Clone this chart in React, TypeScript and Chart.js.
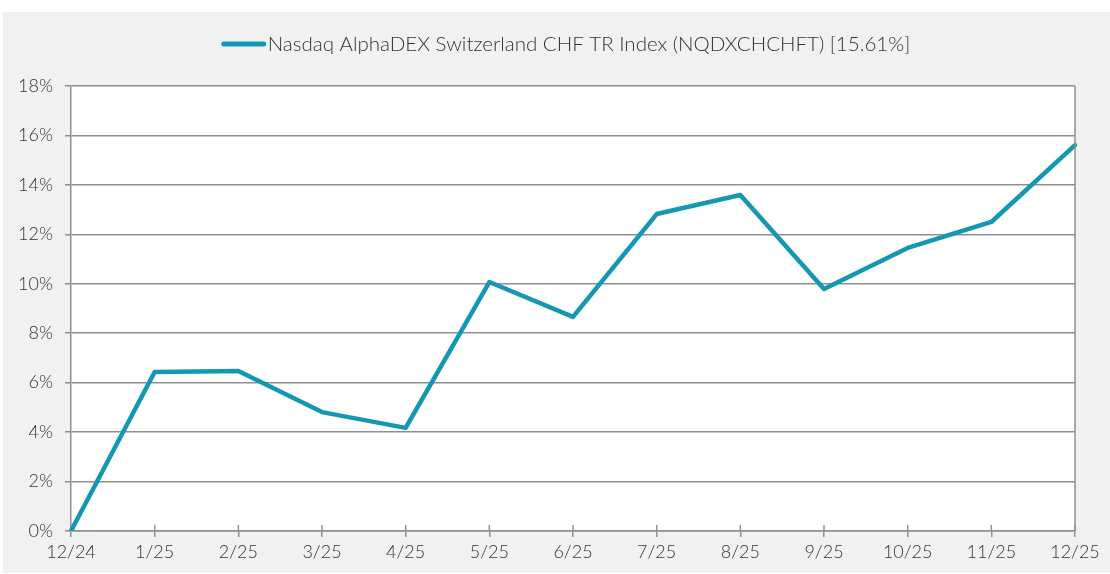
import React, { useEffect, useRef } from "react";
import { Chart, registerables } from "chart.js";

Chart.register(...registerables);

const categories = ["12/24", "1/25", "2/25", "3/25", "4/25", "5/25", "6/25", "7/25", "8/25", "9/25", "10/25", "11/25", "12/25"];
const seriesValues = [0, 6.43, 6.47, 4.81, 4.17, 10.07, 8.66, 12.82, 13.59, 9.79, 11.45, 12.5, 15.61];
const seriesLabel = "Nasdaq AlphaDEX Switzerland CHF TR Index (NQDXCHCHFT) [15.61%]";
const yTicks = [0, 2, 4, 6, 8, 10, 12, 14, 16, 18];

const LINE_COLOR = "#1397b3";
const GRID_COLOR = "#8f8f8f";
const TEXT_COLOR = "#333333";
const FONT_FAMILY = "Lato, 'Open Sans', Roboto, sans-serif";

export default function App() {
  const ref = useRef<HTMLCanvasElement | null>(null);

  useEffect(() => {
    document.body.style.margin = "0";
    const canvas = ref.current;
    if (!canvas) return;

    const decor = {
      id: "decor",
      beforeDraw(chart: any) {
        const ctx = chart.ctx;
        ctx.save();
        ctx.fillStyle = "#ffffff";
        ctx.fillRect(0, 0, chart.width, chart.height);
        ctx.fillStyle = "#f1f1f1";
        ctx.fillRect(3, 12, chart.width - 3, chart.height - 13);
        const a = chart.chartArea;
        ctx.fillStyle = "#ffffff";
        ctx.fillRect(a.left, a.top, a.right - a.left, a.bottom - a.top);
        ctx.restore();
      },
      afterDraw(chart: any) {
        const ctx = chart.ctx;
        const a = chart.chartArea;
        const xs = chart.scales.x;
        ctx.save();
        ctx.strokeStyle = GRID_COLOR;
        ctx.lineWidth = 1.5;
        // right border
        ctx.beginPath();
        ctx.moveTo(a.right, a.top);
        ctx.lineTo(a.right, a.bottom);
        ctx.stroke();
        // upward part of x ticks
        for (let i = 1; i < categories.length; i++) {
          const x = xs.getPixelForValue(i);
          ctx.beginPath();
          ctx.moveTo(x, a.bottom - 6);
          ctx.lineTo(x, a.bottom);
          ctx.stroke();
        }
        // legend
        const cx = 566;
        ctx.font = `300 20.5px ${FONT_FAMILY}`;
        const tw = ctx.measureText(seriesLabel).width;
        const total = 46 + tw;
        const x0 = cx - total / 2;
        const ly = 44;
        ctx.strokeStyle = LINE_COLOR;
        ctx.lineWidth = 5;
        ctx.lineCap = "round";
        ctx.beginPath();
        ctx.moveTo(x0 + 2, ly);
        ctx.lineTo(x0 + 42, ly);
        ctx.stroke();
        ctx.fillStyle = TEXT_COLOR;
        ctx.textBaseline = "middle";
        ctx.textAlign = "left";
        ctx.fillText(seriesLabel, x0 + 46, ly);
        ctx.restore();
      },
    };

    const chart = new Chart(canvas, {
      type: "line",
      data: {
        labels: categories,
        datasets: [
          {
            label: seriesLabel,
            data: seriesValues,
            borderColor: LINE_COLOR,
            backgroundColor: LINE_COLOR,
            borderWidth: 4.5,
            pointRadius: 0,
            tension: 0,
            borderCapStyle: "round",
            borderJoinStyle: "round",
          },
        ],
      },
      options: {
        responsive: false,
        animation: false,
        layout: { padding: { top: 86, right: 35, bottom: 0, left: 0 } },
        plugins: {
          legend: { display: false },
          tooltip: { enabled: false },
        },
        scales: {
          x: {
            offset: false,
            grid: {
              display: true,
              drawOnChartArea: false,
              drawTicks: true,
              tickLength: 6,
              color: GRID_COLOR,
              lineWidth: 1.5,
            },
            border: { display: true, color: GRID_COLOR, width: 1.5 },
            ticks: {
              color: TEXT_COLOR,
              font: { family: FONT_FAMILY, size: 18, weight: "300" as any },
              padding: 4,
              maxRotation: 0,
              autoSkip: false,
            },
            afterFit(scale: any) {
              scale.height = 43;
            },
          },
          y: {
            min: 0,
            max: 18,
            afterBuildTicks(scale: any) {
              scale.ticks = yTicks.map((v) => ({ value: v }));
            },
            grid: {
              color: GRID_COLOR,
              lineWidth: 1.5,
              tickLength: 6,
              drawTicks: true,
            },
            border: { display: true, color: GRID_COLOR, width: 1.5 },
            ticks: {
              color: TEXT_COLOR,
              font: { family: FONT_FAMILY, size: 18, weight: "300" as any },
              padding: 12,
              callback: (v: any) => `${v}%`,
            },
            afterFit(scale: any) {
              scale.width = 71;
            },
          },
        },
      },
      plugins: [decor],
    });

    return () => chart.destroy();
  }, []);

  return (
    <div style={{ position: "fixed", left: 0, top: 0, width: 1110, height: 574 }}>
      <canvas ref={ref} width={1110} height={574} style={{ display: "block", width: 1110, height: 574 }} />
    </div>
  );
}
